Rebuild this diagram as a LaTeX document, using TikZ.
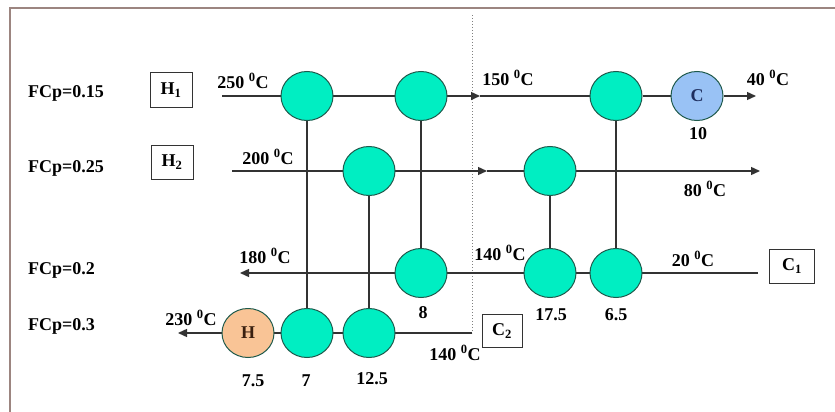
\documentclass[tikz,border=0pt]{standalone}
\usepackage{fontspec}
\setmainfont{Liberation Serif}
\usetikzlibrary{arrows.meta,backgrounds}
\definecolor{teal1}{HTML}{00EEC2}
\definecolor{tealb}{HTML}{1F5A4C}
\definecolor{cold}{HTML}{99C2F5}
\definecolor{coldt}{HTML}{1F2F5F}
\definecolor{hot}{HTML}{F9C496}
\definecolor{hott}{HTML}{3A2010}
\definecolor{framec}{HTML}{9C8580}
\definecolor{linec}{HTML}{333333}
\tikzset{
  txt/.style={font=\fontsize{18}{20}\selectfont\bfseries, inner sep=0pt},
  hx/.style={ellipse, draw=tealb, line width=1pt, fill=teal1, minimum width=52pt, minimum height=49pt, inner sep=0pt},
  cooler/.style={hx, fill=cold, text=coldt, font=\fontsize{18}{20}\selectfont\bfseries},
  heater/.style={hx, fill=hot, text=hott, font=\fontsize{18}{20}\selectfont\bfseries},
  sbox/.style={draw=linec, line width=1pt, font=\fontsize{18}{20}\selectfont\bfseries, minimum width=42pt, minimum height=34pt, inner sep=0pt},
  stream/.style={draw=linec, line width=1.4pt},
  arr/.style={stream, -{Triangle[length=9pt,width=8pt]}},
}
\usetikzlibrary{shapes.geometric}
\begin{document}
\begin{tikzpicture}[x=1pt,y=-1pt]
\useasboundingbox (0,0) rectangle (835,412);
\draw[framec, line width=2pt] (10,412) -- (10,8) -- (835,8);
% exchangers
\node[hx] (a1) at (307,96) {};
\node[hx] (a2) at (421,96) {};
\node[hx] (a3) at (616,96) {};
\node[cooler] (cc) at (697,96) {C};
\node[hx] (b1) at (369,171) {};
\node[hx] (b2) at (550,171) {};
\node[hx] (c1) at (421,273) {};
\node[hx] (c2) at (550,273) {};
\node[hx] (c3) at (616,273) {};
\node[heater] (hh) at (248,333) {H};
\node[hx] (d1) at (307,333) {};
\node[hx] (d2) at (369,333) {};
% coordinates
\coordinate (h1s) at (222,96);
\coordinate (h1m) at (480,96);
\coordinate (h1e) at (756,96);
\coordinate (h2s) at (232,171);
\coordinate (h2m) at (487,171);
\coordinate (h2e) at (760,171);
\coordinate (c1s) at (758,273);
\coordinate (c1e) at (240,273);
\coordinate (c2s) at (472,333);
\coordinate (c2e) at (178,333);
\coordinate (dt) at (472,15);
\begin{scope}[on background layer]
\draw[gray, line width=1pt, dotted] (dt) -- (c2s);
\draw[arr] (h1s) -- (h1m);
\draw[stream] (h1m) -- (a3) -- (cc);
\draw[arr] (cc) -- (h1e);
\draw[arr] (h2s) -- (h2m);
\draw[arr] (h2m) -- (h2e);
\draw[arr] (c1s) -- (c1e);
\draw[arr] (c2s) -- (c2e);
\draw[stream] (a1) -- (d1);
\draw[stream] (b1) -- (d2);
\draw[stream] (a2) -- (c1);
\draw[stream] (b2) -- (c2);
\draw[stream] (a3) -- (c3);
\end{scope}
% stream labels
\node[txt, anchor=west] (f1) at (28,93) {FCp=0.15};
\node[txt, anchor=west] (f2) at (28,168) {FCp=0.25};
\node[txt, anchor=west] (f3) at (28,270) {FCp=0.2};
\node[txt, anchor=west] (f4) at (28,326) {FCp=0.3};
\node[sbox] (bH1) at (171,90) {H\textsubscript{1}};
\node[sbox] (bH2) at (172,162) {H\textsubscript{2}};
\node[sbox, minimum width=45pt] (bC1) at (792,266) {C\textsubscript{1}};
\node[sbox, minimum width=40pt, minimum height=33pt] (bC2) at (502,331) {C\textsubscript{2}};
% temperatures
\node[txt] (t250) at (243,81) {250 \textsuperscript{0}C};
\node[txt] (t200) at (268,157) {200 \textsuperscript{0}C};
\node[txt] (t150) at (508,78) {150 \textsuperscript{0}C};
\node[txt] (t40) at (768,78) {40 \textsuperscript{0}C};
\node[txt] (t80) at (705,189) {80 \textsuperscript{0}C};
\node[txt] (t180) at (265,256) {180 \textsuperscript{0}C};
\node[txt] (t140a) at (500,253) {140 \textsuperscript{0}C};
\node[txt] (t20) at (693,259) {20 \textsuperscript{0}C};
\node[txt] (t230) at (191,318) {230 \textsuperscript{0}C};
\node[txt] (t140b) at (455,353) {140 \textsuperscript{0}C};
% duties
\node[txt] (q10) at (698,134) {10};
\node[txt] (q8) at (423,313) {8};
\node[txt] (q175) at (551,315) {17.5};
\node[txt] (q65) at (616,315) {6.5};
\node[txt] (q75) at (253,381) {7.5};
\node[txt] (q7) at (306,381) {7};
\node[txt] (q125) at (372,379) {12.5};
\end{tikzpicture}
\end{document}
